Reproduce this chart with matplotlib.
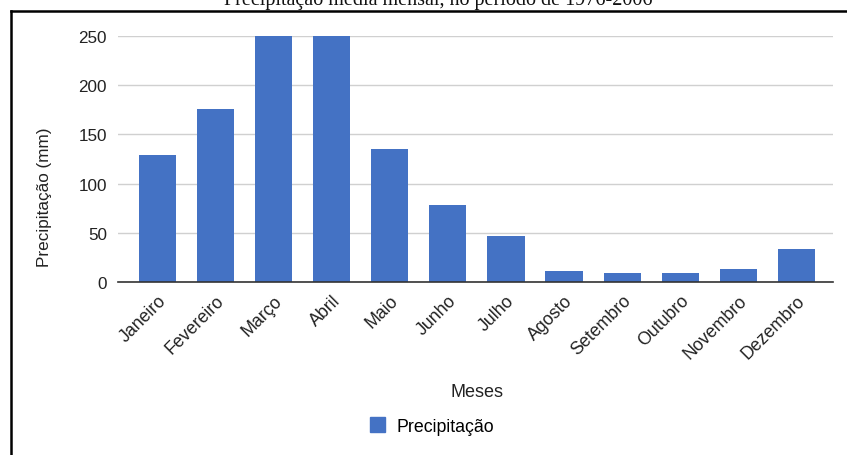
import matplotlib.pyplot as plt
from matplotlib.lines import Line2D
from matplotlib.patches import Patch

# monthly rainfall
meses = ['Janeiro', 'Fevereiro', 'Março', 'Abril', 'Maio', 'Junho',
         'Julho', 'Agosto', 'Setembro', 'Outubro', 'Novembro', 'Dezembro']
precipitacao = [129, 176, 250, 250, 135, 78, 47, 11, 9, 9, 13, 34]
yticks = [0, 50, 100, 150, 200, 250]

azul = '#4472C4'
plt.rcParams['font.family'] = ['Liberation Sans', 'DejaVu Sans']
fs = 12.3

fig = plt.figure(figsize=(8.47, 4.56), dpi=100)
ax = fig.add_axes([118 / 847, 1 - 283 / 456, 715 / 847, 246 / 456])

x = list(range(len(meses)))
ax.bar(x, precipitacao, width=0.64, color=azul, zorder=3)

ax.set_xlim(-0.68, 11.63)
ax.set_ylim(0, 250)
ax.set_yticks(yticks)
ax.set_yticklabels([str(v) for v in yticks], fontsize=fs, color='#222222')
ax.set_xticks(x)
ax.set_xticklabels(meses, rotation=45, ha='right', rotation_mode='anchor',
                   fontsize=fs + 0.5, color='#222222')
ax.tick_params(length=0, pad=8)
ax.tick_params(axis='x', pad=7)
ax.grid(axis='y', color='#d0d0d0', linewidth=1, zorder=0)
for s in ['top', 'right', 'left']:
    ax.spines[s].set_visible(False)
ax.spines['bottom'].set_color('#333333')
ax.spines['bottom'].set_linewidth(1.2)
ax.spines['bottom'].set_zorder(4)

fig.text(45 / 847, 1 - 197 / 456, 'Precipitação (mm)', rotation=90,
         ha='center', va='center', fontsize=fs, color='#222222')
fig.text(477 / 847, 1 - 393 / 456, 'Meses', ha='center', va='center',
         fontsize=fs + 0.7, color='#222222')

fig.legend(handles=[Patch(color=azul, label='Precipitação')],
           loc='center', bbox_to_anchor=(432 / 847, 1 - 427 / 456),
           frameon=False, fontsize=fs + 0.5, handlelength=0.85,
           handleheight=0.85, handletextpad=0.6)

# clipped caption at the very top and the frame of the scanned page
fig.text(438 / 847, 1 - 5 / 456, 'Precipitação média mensal, no período de 1976-2006',
         ha='center', va='baseline', fontsize=14.5, family='Liberation Serif',
         color='#111111')
fig.add_artist(Line2D([11 / 847, 11 / 847], [0, 1 - 12 / 456],
                      color='black', linewidth=1.8))
fig.add_artist(Line2D([11 / 847, 1], [1 - 12 / 456, 1 - 12 / 456],
                      color='black', linewidth=1.8))

fig.savefig('out.png', dpi=100)
